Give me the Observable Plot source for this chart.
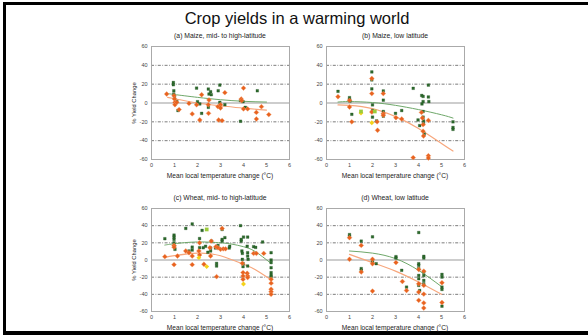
<!DOCTYPE html>
<html>
<head>
<meta charset="utf-8">
<script src="https://cdn.jsdelivr.net/npm/d3@7"></script>
<script src="https://cdn.jsdelivr.net/npm/@observablehq/plot@0.6"></script>
<style>
  html, body { margin:0; padding:0; width:588px; height:335px; overflow:hidden; background:#fff; }
  body { position:relative; font-family:'Liberation Sans', Arial, Helvetica, sans-serif; }
  #border { position:absolute; left:3px; top:2px; width:600px; height:326px; border-top:3px solid #000; border-left:3px solid #000; border-bottom:4px solid #000; }
  .abs { position:absolute; white-space:nowrap; color:#222; }
  #title { left:0; width:594px; top:9px; text-align:center; font-size:16.5px; color:#111; }
  .ptitle { font-size:6.8px; transform:translateX(-50%); }
  .xlab { font-size:6.6px; transform:translateX(-50%); }
  .ylab { font-size:5.8px; transform:translate(-50%,-50%) rotate(-90deg); }
  .panel { position:absolute; }
</style>
</head>
<body>
<div id="border"></div>
<div id="title" class="abs">Crop yields in a warming world</div>

<script>
// ---------- tick values ----------
const xTicks = [0, 1, 2, 3, 4, 5, 6];
const yTicks = [-60, -40, -20, 0, 20, 40, 60];
const gridLevels = [-40, -20, 20, 40];

// ---------- titles ----------
const panelTitles = ["(a) Maize, mid- to high-latitude", "(b) Maize, low latitude",
                     "(c) Wheat, mid- to high-latitude", "(d) Wheat, low latitude"];
const xLabel = "Mean local temperature change (°C)";
const yLabel = "% Yield Change";

// ---------- (a) Maize, mid- to high-latitude ----------
const maizeMidAdapt = [[0.95,21.8],[0.95,19.4],[0.97,13],[0.97,9.5],[1.0,6],[1.1,1.8],[1.15,-8],[1.96,15.8],[2.0,1.4],[2.1,-1],[2.18,-11],[2.47,14.8],[2.5,9.5],[2.57,12],[2.6,8.8],[2.47,-4.6],[2.9,13],[2.97,19],[2.97,0.7],[3.19,-1.8],[3.87,2.5],[3.87,-19.4],[3.98,1.4],[4.08,-4.6],[4.6,13]];
const maizeMidNoAdapt = [[0.66,9.5],[0.98,7.7],[1.0,4.2],[1.02,0.7],[1.02,-1.8],[1.1,0.7],[1.2,-7],[1.63,-0.4],[1.77,-11.6],[1.96,-1.8],[2.1,-18],[2.18,8.8],[2.47,-1.8],[2.48,-11],[2.5,3.2],[2.89,-3.9],[2.92,-18],[3.0,-1.8],[3.0,-5.3],[3.07,-18.7],[3.19,11],[3.9,4.2],[3.92,2.5],[4.0,15.8],[4.0,-6.3],[4.18,-6.3],[4.56,-10],[4.56,-17],[4.78,-3.9],[5.1,-12.3]];
const maizeMidAdaptFit = [[0.7,10],[1,9],[2,6],[3,3.5],[4,1.8],[5,1]];
const maizeMidNoAdaptFit = [[0.7,6],[1,4.5],[2,0],[3,-3],[4,-5.5],[5,-7.5]];

// ---------- (b) Maize, low latitude ----------
const maizeLowAdapt = [[0.5,12.4],[1.0,5.7],[1.0,3.5],[1.02,2],[1.1,-12],[1.97,33],[1.97,24.5],[1.97,15],[2.0,-2],[2.0,-8],[2.0,-15],[2.18,-19],[2.47,12.8],[2.47,3],[2.47,-9],[2.47,-14],[3.0,-11],[3.27,-8],[3.77,15.6],[3.98,-18],[4.05,-24],[4.14,8],[4.2,7],[4.15,-1],[4.2,1.5],[4.2,-9],[4.2,-15],[4.22,-19],[4.22,-22],[4.25,-33],[4.43,19],[4.43,6.4],[4.45,1.5],[5.5,-20],[5.5,-26],[5.5,-28]];
const maizeLowNoAdapt = [[0.5,6.7],[1.0,2.8],[1.0,-4.3],[1.1,-20],[1.97,26],[1.97,10],[1.97,-9.6],[2.2,-20],[2.22,-29],[2.47,10],[2.47,-11.4],[2.47,-13],[3.02,-15.6],[3.27,-17],[3.77,-58],[4.13,-10],[4.17,-16],[4.2,-23],[4.2,-30],[4.22,-35],[4.43,-18.5],[4.43,-56],[4.43,-58.5]];
const maizeLowYellow = [[1.5,-10.6],[1.97,-21]];
const maizeLowLime = [[1.5,-9],[2.1,-9]];
const maizeLowAdaptFit = [[0.5,1],[1,1.5],[2,0.5],[3,-2.5],[4,-7],[5,-12.5],[5.5,-16]];
const maizeLowNoAdaptFit = [[0.5,-2],[1,-2.5],[2,-6],[3,-14.5],[4,-27],[5,-43],[5.5,-51]];

// ---------- (c) Wheat, mid- to high-latitude ----------
const wheatMidAdapt = [[0.58,24.8],[0.98,29],[0.98,26.7],[0.98,24],[0.98,20],[1.0,16],[1.02,12.4],[1.49,36.8],[1.77,42],[1.77,15],[1.77,11.6],[1.63,10.5],[2.09,25],[2.09,14.3],[2.2,34.5],[2.25,14.3],[2.35,16],[2.45,9],[2.57,14],[2.57,10.5],[2.6,22],[2.78,14],[2.83,-4],[2.83,-7],[2.89,17],[3.07,35.6],[3.07,24],[3.07,22],[3.19,26],[3.38,14],[3.4,16],[3.87,40],[3.9,24],[3.9,22],[3.93,10.5],[3.95,7.7],[3.95,0.8],[3.98,-4],[3.98,-7.7],[4.0,26.7],[4.16,16],[4.18,26.7],[4.18,8.5],[4.18,4.6],[4.18,-7],[4.2,0.8],[4.44,15.5],[4.53,14.7],[4.83,21],[5.2,8.5],[5.2,0],[5.2,-3],[5.2,-9],[5.2,-14.7],[5.2,-17.8],[5.2,-19.7]];
const wheatMidNoAdapt = [[0.58,3.9],[0.98,17],[0.98,15],[0.98,-5.4],[1.13,4.6],[1.49,10.5],[1.63,8.5],[1.77,4.6],[1.77,-5.4],[2.06,10.5],[2.09,5.8],[2.09,20],[2.28,-5],[2.54,14.3],[2.57,4.6],[2.6,22],[2.8,15.5],[2.83,-19.4],[2.89,14.3],[3.0,12.4],[3.07,36.8],[3.12,13],[3.22,13],[3.95,-3.9],[3.98,-14.7],[3.98,-18.6],[3.98,-22.5],[4.16,-15.5],[4.18,-18.6],[4.18,-20.5],[4.44,7.7],[4.56,7.7],[4.88,7.7],[5.2,-22.5],[5.2,-27],[5.2,-34],[5.2,-37],[5.2,-40]];
const wheatMidYellow = [[2.06,2.7],[2.4,-7.7],[4.0,-28]];
const wheatMidLime = [[2.4,35.6]];
const wheatMidAdaptFit = [[0.58,17.4],[1,19],[2,21],[3,20],[3.5,18.5],[4,15.5],[4.5,10],[5.2,-4]];
const wheatMidNoAdaptFit = [[0.6,3],[1,5],[2,8],[3,5],[4,-5],[4.5,-11],[5.2,-23]];

// ---------- (d) Wheat, low latitude ----------
const wheatLowAdapt = [[1.0,29.6],[1.0,27.3],[1.51,22],[1.51,-10],[1.51,-12],[2.0,27],[2.0,-0.4],[2.0,-3],[2.16,-4.3],[3.02,3.9],[3.02,2.3],[3.27,-12],[3.48,-31.6],[4.01,32],[4.01,-4.3],[4.01,-6.2],[4.01,-10],[4.01,-18],[4.01,-21.8],[4.01,-29.6],[4.05,-35.5],[4.23,4.3],[4.23,2.3],[4.23,-14],[4.23,-18],[4.23,-23.8],[4.23,-27.7],[5.02,-16.8],[5.02,-19.9],[5.02,-31.6],[5.02,-34.3],[5.02,-53.8]];
const wheatLowNoAdapt = [[1.0,26],[1.0,0.8],[1.51,17],[1.51,-14],[2.0,0.8],[2.0,-4.3],[2.0,-36.2],[3.02,-3],[3.3,-25],[3.48,-35.5],[4.01,-11],[4.01,-27.7],[4.01,-37.4],[4.01,-47],[4.23,-13],[4.23,-29.6],[4.23,-39.7],[4.23,-50],[4.23,-56],[5.02,-26.5],[5.02,-49.5]];
const wheatLowAdaptFit = [[1,10.5],[2,8],[3,1.6],[4,-12],[5,-31]];
const wheatLowNoAdaptFit = [[1,6.6],[2,-3],[3,-13],[4,-25.7],[5,-40]];

// ---------- drawing ----------
const FONT = "'Liberation Sans', Arial, Helvetica, sans-serif";
const GREEN = "#2c6a2c", ORANGE = "#e8621f", YELLOW = "#f4d21c", LIME = "#9ccb3a";
const GREEN_FIT = "#6fa86a", ORANGE_FIT = "#f7a67c";
const px = d => d[0], py = d => d[1];

function panel(s, h) {
  return Plot.plot({
    width: 180, height: h,
    marginLeft: 30, marginRight: 12, marginTop: 4, marginBottom: 26,
    style: { fontFamily: FONT, fontSize: "5.5px", color: "#444", background: "transparent", overflow: "visible" },
    x: { domain: [0, 6], ticks: xTicks, tickFormat: d => String(d), tickSize: 0, tickPadding: 4, label: null },
    y: { domain: [-60, 60], ticks: yTicks, tickFormat: d => String(d), tickSize: 0, tickPadding: 4, label: null },
    marks: [
      Plot.ruleY(gridLevels, { stroke: "#444", strokeWidth: 0.7, strokeDasharray: "3,1.5,0.8,1.5" }),
      Plot.ruleY([0], { stroke: "#bdbdbd", strokeWidth: 1.6 }),
      Plot.frame({ stroke: "#aaa", strokeWidth: 1 }),
      Plot.line(s.adaptFit, { x: px, y: py, stroke: GREEN_FIT, strokeWidth: 1, curve: "natural" }),
      Plot.line(s.noAdaptFit, { x: px, y: py, stroke: ORANGE_FIT, strokeWidth: 1.2, curve: "natural" }),
      Plot.dot(s.adapt, { x: px, y: py, symbol: "square", r: 1.5, fill: GREEN, stroke: "#1f4f1f", strokeWidth: 0.3 }),
      Plot.dot(s.noAdapt, { x: px, y: py, symbol: "diamond2", r: 2.2, fill: ORANGE, stroke: "#f29a66", strokeWidth: 0.4 }),
      Plot.dot(s.yellow || [], { x: px, y: py, symbol: "diamond2", r: 2.2, fill: YELLOW, stroke: "none" }),
      Plot.dot(s.lime || [], { x: px, y: py, symbol: "square", r: 2.1, fill: LIME })
    ]
  });
}

const panels = [
  { left: 121, top: 42, h: 143, adapt: maizeMidAdapt, noAdapt: maizeMidNoAdapt, adaptFit: maizeMidAdaptFit, noAdaptFit: maizeMidNoAdaptFit },
  { left: 296, top: 42, h: 143, adapt: maizeLowAdapt, noAdapt: maizeLowNoAdapt, yellow: maizeLowYellow, lime: maizeLowLime, adaptFit: maizeLowAdaptFit, noAdaptFit: maizeLowNoAdaptFit },
  { left: 121, top: 204, h: 133, adapt: wheatMidAdapt, noAdapt: wheatMidNoAdapt, yellow: wheatMidYellow, lime: wheatMidLime, adaptFit: wheatMidAdaptFit, noAdaptFit: wheatMidNoAdaptFit },
  { left: 296, top: 204, h: 133, adapt: wheatLowAdapt, noAdapt: wheatLowNoAdapt, adaptFit: wheatLowAdaptFit, noAdaptFit: wheatLowNoAdaptFit }
];

panels.forEach((p, i) => {
  const div = document.createElement("div");
  div.className = "panel";
  div.style.left = p.left + "px";
  div.style.top = p.top + "px";
  div.appendChild(panel(p, p.h));
  document.body.appendChild(div);

  const cx = p.left + 30 + 138 / 2;
  const frameTop = p.top + 4, frameBottom = p.top + p.h - 26;

  const t = document.createElement("div");
  t.className = "abs ptitle";
  t.textContent = panelTitles[i];
  t.style.left = cx + "px";
  t.style.top = (frameTop - 14) + "px";
  document.body.appendChild(t);

  const xl = document.createElement("div");
  xl.className = "abs xlab";
  xl.textContent = xLabel;
  xl.style.left = cx + "px";
  xl.style.top = (frameBottom + 13) + "px";
  document.body.appendChild(xl);

  if (i % 2 === 0) {
    const yl = document.createElement("div");
    yl.className = "abs ylab";
    yl.textContent = yLabel;
    yl.style.left = (p.left + 13) + "px";
    yl.style.top = ((frameTop + frameBottom) / 2) + "px";
    document.body.appendChild(yl);
  }
});
</script>
</body>
</html>
